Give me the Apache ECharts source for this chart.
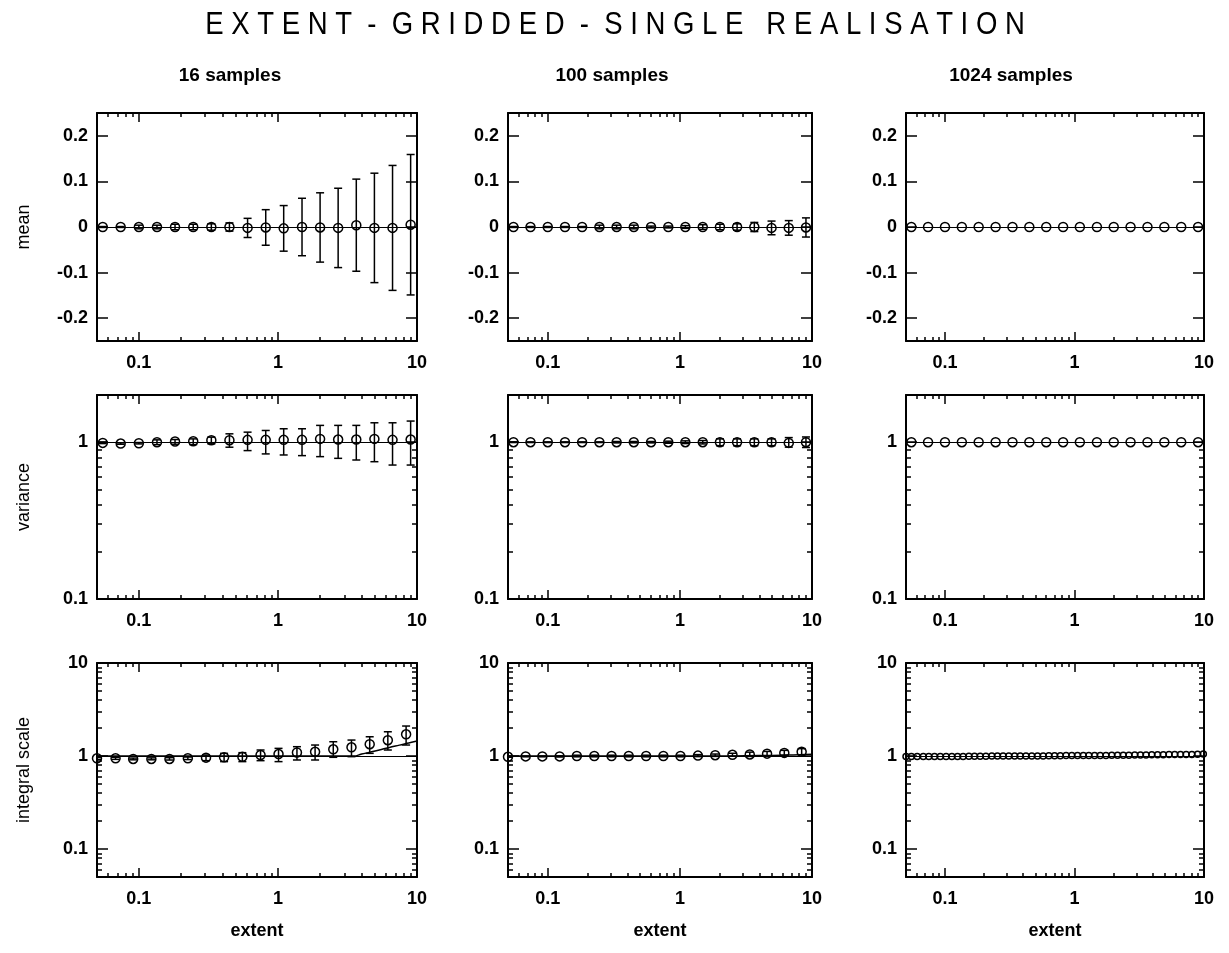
<!DOCTYPE html>
<html>
<head>
<meta charset="utf-8">
<script src="https://cdn.jsdelivr.net/npm/echarts@6/dist/echarts.min.js"></script>
<style>
html, body { margin: 0; padding: 0; background: #fff; }
#chart { width: 1229px; height: 953px; }
</style>
</head>
<body>
<div id="chart"></div>
<script>
// x positions (extent) of the points
const extentA = [0.055, 0.074, 0.1, 0.135, 0.182, 0.246, 0.332, 0.448, 0.605, 0.817, 1.1, 1.49, 2.01, 2.71, 3.66, 4.94, 6.67, 9.0];
const extentB = [0.05, 0.068, 0.091, 0.123, 0.166, 0.225, 0.304, 0.41, 0.555, 0.75, 1.01, 1.37, 1.85, 2.5, 3.38, 4.57, 6.17, 8.35];
const extentC = [0.05, 0.055, 0.061, 0.068, 0.075, 0.083, 0.092, 0.102, 0.113, 0.125, 0.138, 0.153, 0.169, 0.187, 0.207,
  0.23, 0.254, 0.281, 0.311, 0.345, 0.381, 0.422, 0.468, 0.518, 0.573, 0.634, 0.702, 0.777, 0.861, 0.953,
  1.055, 1.17, 1.29, 1.43, 1.58, 1.75, 1.94, 2.15, 2.38, 2.63, 2.92, 3.23, 3.57, 3.95, 4.38, 4.85, 5.37,
  5.94, 6.58, 7.28, 8.06, 8.92, 9.88];

// mean row
const mean16 = [0, 0, 0, 0, 0, 0, 0, 0, -0.002, -0.001, -0.003, 0, -0.001, -0.002, 0.004, -0.002, -0.002, 0.005];
const mean16Err = [0.001, 0.001, 0.004, 0.004, 0.006, 0.006, 0.007, 0.009, 0.021, 0.039, 0.05, 0.063, 0.076, 0.087, 0.101, 0.12, 0.137, 0.154];
const mean100 = [0, 0, 0, 0, 0, 0, 0, 0, 0, 0, 0, 0, 0, 0, 0, -0.002, -0.002, -0.001];
const mean100Err = [0.001, 0.001, 0.001, 0.001, 0.001, 0.004, 0.004, 0.004, 0.002, 0.002, 0.003, 0.005, 0.006, 0.007, 0.01, 0.015, 0.016, 0.021];
const mean1024 = [0, 0, 0, 0, 0, 0, 0, 0, 0, 0, 0, 0, 0, 0, 0, 0, 0, 0];

// variance row
const var16 = [0.99, 0.98, 0.985, 1.0, 1.01, 1.015, 1.03, 1.03, 1.035, 1.035, 1.035, 1.035, 1.05, 1.04, 1.04, 1.05, 1.035, 1.04];
const var16Lo = [0.98, 0.97, 0.975, 0.966, 0.971, 0.966, 0.976, 0.929, 0.884, 0.842, 0.829, 0.821, 0.809, 0.789, 0.77, 0.751, 0.715, 0.715];
const var16Hi = [1.0, 0.99, 0.995, 1.035, 1.04, 1.05, 1.077, 1.131, 1.159, 1.188, 1.218, 1.218, 1.28, 1.28, 1.28, 1.33, 1.33, 1.364];
const var100 = [1, 1, 1, 1, 1, 1, 1, 1, 1, 1, 1, 1, 1, 1, 1, 1, 0.99, 1];
const var100Lo = [0.995, 0.995, 0.995, 0.995, 0.995, 0.995, 0.99, 0.99, 0.99, 0.985, 0.98, 0.975, 0.95, 0.95, 0.95, 0.95, 0.93, 0.925];
const var100Hi = [1.005, 1.005, 1.005, 1.005, 1.005, 1.005, 1.01, 1.01, 1.01, 1.015, 1.02, 1.025, 1.05, 1.05, 1.05, 1.05, 1.07, 1.08];
const var1024 = [1, 1, 1, 1, 1, 1, 1, 1, 1, 1, 1, 1, 1, 1, 1, 1, 1, 1];

// integral scale row
const int16 = [0.944, 0.944, 0.93, 0.93, 0.93, 0.944, 0.96, 0.97, 0.98, 1.025, 1.05, 1.09, 1.11, 1.18, 1.24, 1.34, 1.48, 1.71];
const int16Lo = [0.92, 0.92, 0.91, 0.91, 0.905, 0.915, 0.891, 0.87, 0.87, 0.891, 0.87, 0.906, 0.906, 0.968, 0.984, 1.068, 1.16, 1.312];
const int16Hi = [0.97, 0.97, 0.95, 0.955, 0.96, 0.975, 1.025, 1.068, 1.086, 1.16, 1.208, 1.259, 1.312, 1.424, 1.484, 1.61, 1.822, 2.1];
const int100 = [0.98, 0.99, 0.99, 0.99, 1.0, 1.0, 1.0, 1.0, 1.0, 1.0, 1.0, 1.01, 1.02, 1.03, 1.04, 1.06, 1.08, 1.11];
const int100Lo = [0.97, 0.98, 0.98, 0.975, 0.98, 0.98, 0.98, 0.98, 0.98, 0.98, 0.98, 0.985, 0.99, 0.995, 0.99, 1.0, 1.02, 1.03];
const int100Hi = [0.99, 1.0, 1.0, 1.005, 1.02, 1.02, 1.02, 1.02, 1.02, 1.02, 1.02, 1.035, 1.05, 1.07, 1.1, 1.12, 1.15, 1.2];
const int1024 = [0.99, 0.99, 0.99, 0.99, 0.99, 0.99, 0.99, 0.99, 0.99, 0.99, 0.99, 0.995, 0.995, 0.995, 0.995,
  1.0, 1.0, 1.0, 1.0, 1.0, 1.0, 1.0, 1.0, 1.0, 1.0, 1.005, 1.005, 1.005, 1.01, 1.01,
  1.01, 1.01, 1.01, 1.015, 1.015, 1.015, 1.02, 1.02, 1.02, 1.02, 1.025, 1.025, 1.025, 1.03, 1.03,
  1.03, 1.035, 1.035, 1.04, 1.04, 1.04, 1.045, 1.05];

// theoretical curves in the integral scale row
const curve16X = [0.05, 1, 2, 3.5, 4, 5, 6, 7, 8, 9, 10];
const curve16 = [1, 1, 1, 1, 1.05, 1.13, 1.21, 1.28, 1.34, 1.4, 1.45];
const curve100X = [0.05, 2, 4, 6, 8, 10];
const curve100 = [1, 1, 1.01, 1.02, 1.03, 1.045];

// ticks
const xMajor = [0.1, 1, 10];
const xMinor = [0.06, 0.07, 0.08, 0.09, 0.2, 0.3, 0.4, 0.5, 0.6, 0.7, 0.8, 0.9, 2, 3, 4, 5, 6, 7, 8, 9];
const meanTicks = [-0.2, -0.1, 0, 0.1, 0.2];
const varLabels = [0.1, 1];
const varMajor = [1];
const varMinor = [0.2, 0.3, 0.4, 0.5, 0.6, 0.7, 0.8, 0.9, 2];
const intMajor = [0.1, 1, 10];
const intMinor = [0.06, 0.07, 0.08, 0.09, 0.2, 0.3, 0.4, 0.5, 0.6, 0.7, 0.8, 0.9, 2, 3, 4, 5, 6, 7, 8, 9];

const colTitles = ['16 samples', '100 samples', '1024 samples'];
const rowTitles = ['mean', 'variance', 'integral scale'];

const colLeft = [97, 508, 906];
const colWidth = [320, 304, 298];
const rowTop = [113, 395, 663];
const rowHeight = [228, 204, 214];
const colTitleX = [230, 612, 1011];

const FONT = '"Liberation Sans", Arial, Helvetica, sans-serif';
const fmt = v => String(+(+v).toPrecision(3));

const grids = [], xAxes = [], yAxes = [], series = [], graphics = [];

function addAxes(gi, yConf) {
  const base = { gridIndex: gi, splitLine: { show: false }, axisLine: { show: false, onZero: false }, axisLabel: { show: false } };
  const lineOn = { show: true, onZero: false, lineStyle: { color: '#000', width: 2 } };
  const tick = (vals, len) => ({ show: vals.length > 0, inside: true, length: len, customValues: vals, lineStyle: { color: '#000', width: 1.5 } });
  const xb = Object.assign({}, base, { type: 'log', logBase: 10, min: 0.05, max: 10 });
  xAxes.push(
    Object.assign({}, xb, { position: 'bottom', axisLine: lineOn, axisTick: tick(xMajor, 9),
      axisLabel: { show: true, customValues: xMajor, formatter: fmt, fontSize: 18, fontWeight: 'bold', color: '#000', margin: 13, fontFamily: FONT } }),
    Object.assign({}, xb, { position: 'bottom', axisTick: tick(xMinor, 4) }),
    Object.assign({}, xb, { position: 'top', axisLine: lineOn, axisTick: tick(xMajor, 9) }),
    Object.assign({}, xb, { position: 'top', axisTick: tick(xMinor, 4) })
  );
  const yb = Object.assign({}, base, yConf.scale);
  yAxes.push(
    Object.assign({}, yb, { position: 'left', axisLine: lineOn, axisTick: tick(yConf.major, 11),
      axisLabel: { show: true, customValues: yConf.labels, formatter: fmt, fontSize: 18, fontWeight: 'bold', color: '#000', margin: 9, fontFamily: FONT } }),
    Object.assign({}, yb, { position: 'left', axisTick: tick(yConf.minor, 5) }),
    Object.assign({}, yb, { position: 'right', axisLine: lineOn, axisTick: tick(yConf.major, 11) }),
    Object.assign({}, yb, { position: 'right', axisTick: tick(yConf.minor, 5) })
  );
}

function errorBars(gi, data) {
  return {
    type: 'custom', xAxisIndex: gi * 4, yAxisIndex: gi * 4, data: data, clip: true, z: 3,
    encode: { x: 0, y: [1, 2] },
    renderItem: function (params, api) {
      const x = api.value(0);
      const a = api.coord([x, api.value(2)]);
      const b = api.coord([x, api.value(1)]);
      const w = 4;
      const st = { stroke: '#000', lineWidth: 1.5 };
      return { type: 'group', children: [
        { type: 'line', shape: { x1: a[0], y1: a[1], x2: b[0], y2: b[1] }, style: st },
        { type: 'line', shape: { x1: a[0] - w, y1: a[1], x2: a[0] + w, y2: a[1] }, style: st },
        { type: 'line', shape: { x1: b[0] - w, y1: b[1], x2: b[0] + w, y2: b[1] }, style: st }
      ] };
    }
  };
}

function points(gi, xs, ys, refY, size) {
  return {
    type: 'scatter', xAxisIndex: gi * 4, yAxisIndex: gi * 4, z: 4,
    data: xs.map((x, i) => [x, ys[i]]),
    symbol: 'circle', symbolSize: size || 9,
    itemStyle: { color: 'rgba(0,0,0,0)', borderColor: '#000', borderWidth: 1.5, opacity: 1 },
    markLine: { silent: true, symbol: 'none', label: { show: false },
      lineStyle: { color: '#000', width: 1, type: 'solid' }, data: [{ yAxis: refY }] }
  };
}

function curve(gi, xs, ys) {
  return {
    type: 'line', xAxisIndex: gi * 4, yAxisIndex: gi * 4, z: 2, showSymbol: false, smooth: true,
    data: xs.map((x, i) => [x, ys[i]]), lineStyle: { color: '#000', width: 1.5 }
  };
}

const meanConf = { scale: { type: 'value', min: -0.25, max: 0.25 }, labels: meanTicks, major: meanTicks, minor: [] };
const varConf = { scale: { type: 'log', logBase: 10, min: 0.1, max: 2 }, labels: varLabels, major: varMajor, minor: varMinor };
const intConf = { scale: { type: 'log', logBase: 10, min: 0.05, max: 10 }, labels: intMajor, major: intMajor, minor: intMinor };
const rowConf = [meanConf, varConf, intConf];

for (let r = 0; r < 3; r++) {
  for (let c = 0; c < 3; c++) {
    const gi = r * 3 + c;
    grids.push({ left: colLeft[c], top: rowTop[r], width: colWidth[c], height: rowHeight[r], containLabel: false });
    addAxes(gi, rowConf[r]);
  }
}

// mean
series.push(errorBars(0, extentA.map((x, i) => [x, mean16[i] - mean16Err[i], mean16[i] + mean16Err[i]])));
series.push(points(0, extentA, mean16, 0));
series.push(errorBars(1, extentA.map((x, i) => [x, mean100[i] - mean100Err[i], mean100[i] + mean100Err[i]])));
series.push(points(1, extentA, mean100, 0));
series.push(points(2, extentA, mean1024, 0));
// variance
series.push(errorBars(3, extentA.map((x, i) => [x, var16Lo[i], var16Hi[i]])));
series.push(points(3, extentA, var16, 1));
series.push(errorBars(4, extentA.map((x, i) => [x, var100Lo[i], var100Hi[i]])));
series.push(points(4, extentA, var100, 1));
series.push(points(5, extentA, var1024, 1));
// integral scale
series.push(curve(6, curve16X, curve16));
series.push(errorBars(6, extentB.map((x, i) => [x, int16Lo[i], int16Hi[i]])));
series.push(points(6, extentB, int16, 1));
series.push(curve(7, curve100X, curve100));
series.push(errorBars(7, extentB.map((x, i) => [x, int100Lo[i], int100Hi[i]])));
series.push(points(7, extentB, int100, 1));
series.push(points(8, extentC, int1024, 1, 6));

// texts
graphics.push({ type: 'text', x: 615, y: 25, scaleX: 0.86, style: { text: 'E X T E N T  -  G R I D D E D  -  S I N G L E   R E A L I S A T I O N',
  fill: '#000', font: 'normal 32px ' + FONT, align: 'center', verticalAlign: 'middle' } });
for (let c = 0; c < 3; c++) {
  const cx = colLeft[c] + colWidth[c] / 2;
  graphics.push({ type: 'text', x: colTitleX[c], y: 76, style: { text: colTitles[c], fill: '#000', font: 'bold 19px ' + FONT, align: 'center', verticalAlign: 'middle' } });
  graphics.push({ type: 'text', x: cx, y: 931, style: { text: 'extent', fill: '#000', font: 'bold 18px ' + FONT, align: 'center', verticalAlign: 'middle' } });
}
for (let r = 0; r < 3; r++) {
  const cy = rowTop[r] + rowHeight[r] / 2;
  graphics.push({ type: 'text', x: 24, y: cy, rotation: Math.PI / 2, style: { text: rowTitles[r], fill: '#000', font: 'normal 18px ' + FONT, align: 'center', verticalAlign: 'middle' } });
}

const chart = echarts.init(document.getElementById('chart'));
chart.setOption({
  backgroundColor: '#fff',
  animation: false,
  textStyle: { fontFamily: FONT },
  grid: grids,
  xAxis: xAxes,
  yAxis: yAxes,
  series: series,
  graphic: graphics
});
</script>
</body>
</html>
